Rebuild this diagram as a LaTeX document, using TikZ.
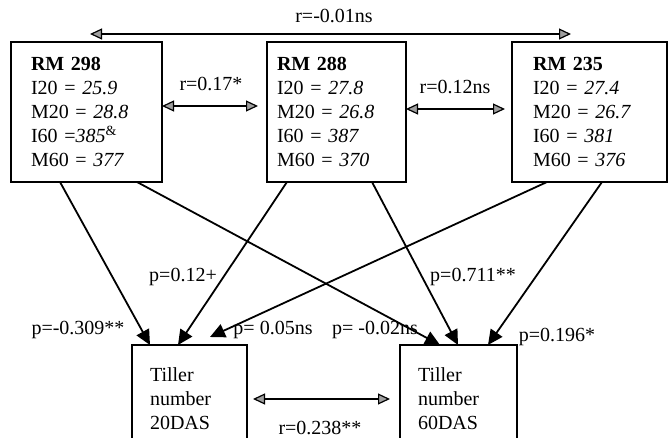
\documentclass[tikz,border=0pt]{standalone}
\usepackage{fontspec}
\setmainfont{Liberation Serif}
\usetikzlibrary{arrows.meta}
\begin{document}
\begin{tikzpicture}[x=1pt,y=-1pt,
  box/.style={draw, line width=2.2pt, outer sep=0pt, inner ysep=0pt, align=left, anchor=north west, font=\fontsize{20}{24}\selectfont},
  pth/.style={line width=1.8pt, -{Triangle[length=15pt,width=14pt]}},
  corr/.style={line width=1.2pt, {Triangle[length=12pt,width=11pt,fill=gray!75]}-{Triangle[length=12pt,width=11pt,fill=gray!75]}},
  lab/.style={font=\fontsize{20}{24}\selectfont, inner sep=0pt, anchor=base}]
\useasboundingbox (0,0) rectangle (670,438);
\clip (0,0) rectangle (670,438);
% boxes
\node[box, inner xsep=20pt, text width=111pt, minimum height=140pt] (rm298) at (11,42)
  {\textbf{RM 298}\\I20 = \textit{25.9}\\M20 = \textit{28.8}\\I60 =\textit{385}\textsuperscript{\&}\\M60 = \textit{377}};
\node[box, inner xsep=10pt, text width=119pt, minimum height=140pt] (rm288) at (267,42)
  {\textbf{RM 288}\\I20 = \textit{27.8}\\M20 = \textit{26.8}\\I60 = \textit{387}\\M60 = \textit{370}};
\node[box, inner xsep=21pt, text width=113pt, minimum height=140pt] (rm235) at (512,42)
  {\textbf{RM 235}\\I20 = \textit{27.4}\\M20 = \textit{26.7}\\I60 = \textit{381}\\M60 = \textit{376}};
\node[box, inner xsep=18pt, text width=79pt, minimum height=108pt] (t20) at (132,345)
  {Tiller\\number\\20DAS};
\node[box, inner xsep=18pt, text width=81pt, minimum height=108pt] (t60) at (400,345)
  {Tiller\\number\\60DAS};
% path arrows
\draw[pth] ([xshift=49pt]rm298.south west) -- ([xshift=18pt]t20.north west);
\draw[pth] ([xshift=126pt]rm298.south west) -- ([xshift=40pt]t60.north west);
\draw[pth] ([xshift=20pt]rm288.south west) -- ([xshift=46pt]t20.north west);
\draw[pth] ([xshift=105pt]rm288.south west) -- ([xshift=58pt]t60.north west);
\draw[pth] ([xshift=35pt]rm235.south west) -- ([shift={(78pt,8pt)}]t20.north west);
\draw[pth] ([xshift=90pt]rm235.south west) -- ([xshift=88pt]t60.north west);
% correlation arrows
\draw[corr] ([shift={(79pt,8pt)}]rm298.north west) -- ([shift={(59pt,8pt)}]rm235.north west);
\draw[corr] ([yshift=6pt]rm298.east) -- ([shift={(-9pt,6pt)}]rm288.west);
\draw[corr] ([yshift=3pt]rm288.east) -- ([shift={(-7pt,3pt)}]rm235.west);
\draw[corr] ([xshift=6pt]t20.east) -- ([xshift=-10pt]t60.west);
% labels
\node[lab] (lr1) at (334,23) {r=-0.01ns};
\node[lab] (lr2) at (211,91) {r=0.17*};
\node[lab] (lr3) at (455,94) {r=0.12ns};
\node[lab] (lr4) at (320,435) {r=0.238**};
\node[lab] (lp1) at (78,335) {p=-0.309**};
\node[lab] (lp2) at (183,282) {p=0.12+};
\node[lab] (lp3) at (273,335) {p= 0.05ns};
\node[lab] (lp4) at (375,335) {p= -0.02ns};
\node[lab] (lp5) at (473,282) {p=0.711**};
\node[lab] (lp6) at (557,342) {p=0.196*};
\end{tikzpicture}
\end{document}
